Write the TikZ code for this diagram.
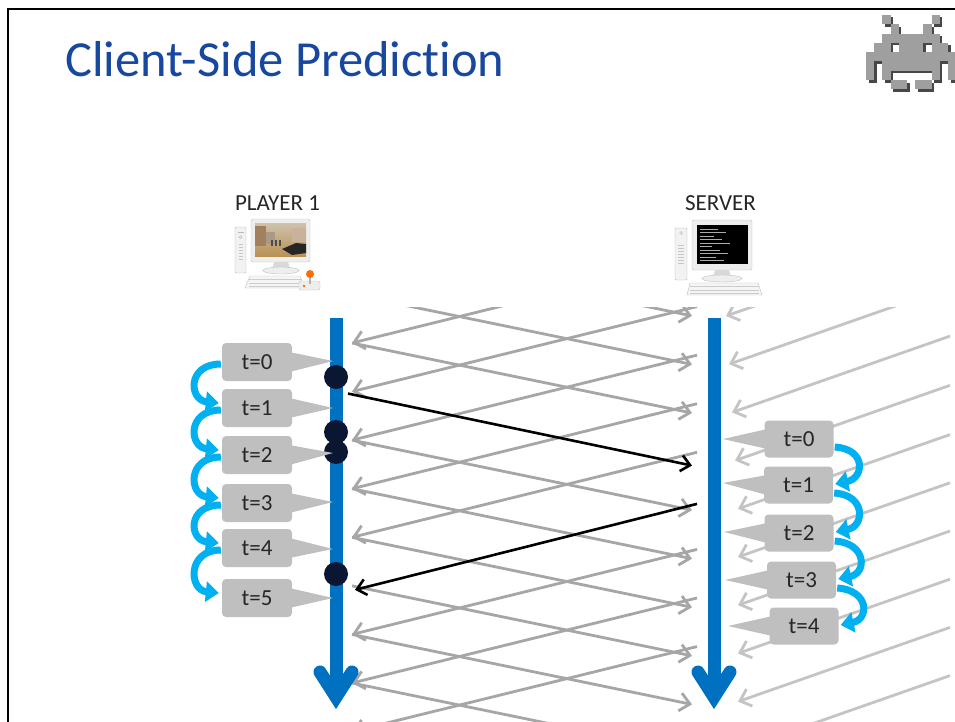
\documentclass[tikz,border=0pt]{standalone}
\usepackage{fontspec}
\setmainfont{Carlito}[Ligatures={NoCommon}]
\usetikzlibrary{arrows.meta,calc}
\definecolor{titleblue}{HTML}{17479E}
\definecolor{tlblue}{HTML}{0070C0}
\definecolor{curvblue}{HTML}{00B0F0}
\definecolor{boxgray}{HTML}{BFBFBF}
\definecolor{msggray}{HTML}{A6A6A6}
\definecolor{fargray}{HTML}{C4C4C4}
\definecolor{dotnavy}{HTML}{0B1633}
\definecolor{txtdark}{HTML}{262626}
\begin{document}
\begin{tikzpicture}[x=1pt,y=-1pt,
  tbox/.style={rectangle, rounded corners=4pt, fill=boxgray, minimum width=70pt,
    minimum height=38pt, inner sep=0pt, font=\fontsize{23}{27}\selectfont, text=txtdark},
  lbl/.style={font=\fontsize{23}{27}\selectfont, text=txtdark, anchor=base, inner sep=0pt},
  timeline/.style={draw=tlblue, line width=13pt},
  tlhead/.style={draw=tlblue, line width=13pt, line cap=round, line join=miter},
  msg/.style={draw=msggray, line width=2.8pt, -{Straight Barb[length=10pt,width=18pt]}},
  farmsg/.style={draw=fargray, line width=2.8pt, -{Straight Barb[length=10pt,width=18pt]}},
  blackmsg/.style={draw=black, line width=2.6pt, -{Straight Barb[length=9pt,width=16pt]}},
  curv/.style={draw=curvblue, line width=7pt, -{Triangle[width=20pt,length=13pt]}},
  dot/.style={circle, fill=dotnavy, minimum size=24pt, inner sep=0pt},
  pix/.style={fill=gray!75},
  pixshade/.style={fill=black!72}
]
\useasboundingbox (0,0) rectangle (955,722);

% slide frame
\draw[line width=2pt] (8,730) -- (8,9) -- (970,9);

% title
\node[anchor=base west, inner sep=0pt, text=titleblue, font=\fontsize{50.5}{60}\selectfont]
  (title) at (65,77) {Client-Side Prediction};

% pixel invader badge
\foreach \c/\r in {2/0,8/0,3/1,7/1,2/2,3/2,4/2,5/2,6/2,7/2,8/2,1/3,2/3,4/3,5/3,6/3,8/3,9/3,
  0/4,1/4,2/4,3/4,4/4,5/4,6/4,7/4,8/4,9/4,10/4,0/5,2/5,3/5,4/5,5/5,6/5,7/5,8/5,10/5,
  0/6,2/6,8/6,10/6,3/7,4/7,6/7,7/7}
  \fill[pixshade] ({866+8.2*\c+2.5},{15+9.3*\r+2.5}) rectangle ++(8.2,9.3);
\foreach \c/\r in {2/0,8/0,3/1,7/1,2/2,3/2,4/2,5/2,6/2,7/2,8/2,1/3,2/3,4/3,5/3,6/3,8/3,9/3,
  0/4,1/4,2/4,3/4,4/4,5/4,6/4,7/4,8/4,9/4,10/4,0/5,2/5,3/5,4/5,5/5,6/5,7/5,8/5,10/5,
  0/6,2/6,8/6,10/6,3/7,4/7,6/7,7/7}
  \fill[pix] ({866+8.2*\c},{15+9.3*\r}) rectangle ++(8.2,9.3);

% player workstation
\node[lbl] (p1lbl) at (277.5,210) {PLAYER 1};
\draw[fill=gray!10, draw=gray!55, rounded corners=1pt] (235,227) rectangle (246,273);
\draw[gray!55, line width=0.6pt] (237.5,232) -- (243.5,232);
\draw[gray!55, line width=0.5pt] (240.5,237) circle (1.4);
\foreach \yy in {244,247,250,253,256,259} \draw[gray!45, line width=0.5pt] (238.5,\yy) -- (242.5,\yy);
\draw[fill=gray!13, draw=gray!50, rounded corners=2pt] (251,219) rectangle (310,262);
\shade[top color={rgb,255:red,205;green,195;blue,170}, bottom color={rgb,255:red,185;green,145;blue,85}]
  (255,223) rectangle (306,256);
\fill[brown!55!gray] (255,226) rectangle (266,246);
\fill[brown!35!gray!80] (266,232) rectangle (275,244);
\fill[gray!40!brown!60] (292,228) rectangle (306,242);
\foreach \fx in {271,275,279} \fill[black!70] (\fx,240) rectangle ++(2,6);
\fill[black!85] (282,249) -- (296,243) -- (306,244) -- (306,253) -- (292,255) -- cycle;
\fill[gray!30] (274,262) -- (288,262) -- (290,269) -- (272,269) -- cycle;
\draw[fill=gray!13, draw=gray!50] (281,270.5) ellipse [x radius=18, y radius=3.5];
\draw[fill=gray!8, draw=gray!50] (250,276) -- (300,276) -- (305,288) -- (245,288) -- cycle;
\foreach \yy in {279.5,283,286} \draw[gray!40, line width=0.5pt] (249,\yy) -- (302,\yy);
\draw[fill=gray!13, draw=gray!50, rounded corners=2pt] (299,281) rectangle (320,290);
\draw[gray!60, line width=1.6pt] (310,284) -- (310,276);
\fill[orange!85!red] (310,274) circle (4);
\fill[orange!85!red] (304,286) circle (1.4);

% server workstation
\node[lbl] (srvlbl) at (720.5,210) {SERVER};
\draw[fill=gray!10, draw=gray!55, rounded corners=1pt] (675,228) rectangle (687,280);
\draw[gray!55, line width=0.5pt] (681,233) circle (1.4);
\foreach \yy in {245,248,251,254,257,260,263} \draw[gray!45, line width=0.5pt] (678,\yy) -- (684,\yy);
\draw[fill=gray!13, draw=gray!50, rounded corners=2pt] (692,220) rectangle (752,270);
\fill[black] (697,225) rectangle (748,264);
\foreach \yy/\len in {229/18,232/26,236/14,239/22,243/30,246/12,250/20,253/28,257/16,260/24}
  \draw[gray!65, line width=0.6pt] (700,\yy) -- ++(\len,0);
\fill[gray!30] (715,270) -- (729,270) -- (731,277) -- (713,277) -- cycle;
\draw[fill=gray!13, draw=gray!50] (722,278.5) ellipse [x radius=20, y radius=3.5];
\draw[fill=gray!8, draw=gray!50] (690,283) -- (758,283) -- (762,295) -- (687,295) -- cycle;
\foreach \yy in {286.5,290,293} \draw[gray!40, line width=0.5pt] (690,\yy) -- (759,\yy);

% message lattice between the two timelines
\begin{scope}
  \clip (340,307) rectangle (955,722);
  \foreach \k in {0,...,10} \coordinate (c\k) at (352,{343+48.57*(\k-2)});
  \foreach \k in {0,...,9} \coordinate (sa\k) at (692,{413+48.57*(\k-2)});
  \foreach \j in {0,...,8} \coordinate (sd\j) at (697,{258+48.57*\j});
  % client to server
  \foreach \k in {0,1,2,4,5,6,7,8,9} \draw[msg] (c\k) -- (sa\k);
  % server to client
  \foreach \j in {0,1,2,3,4,6,7,8} {
    \pgfmathtruncatemacro\jj{\j+2}
    \draw[msg] (sd\j) -- (c\jj);
  }
  % traffic arriving at the server from other players
  \foreach \k in {0,...,9} {
    \pgfmathsetmacro\rx{726+3*min(\k,4)}
    \pgfmathsetmacro\ry{316+48.2*\k}
    \coordinate (r\k) at (\rx,\ry);
    \coordinate (rf\k) at (950,{\ry-0.35*(950-\rx)});
    \draw[farmsg] (rf\k) -- (r\k);
  }
\end{scope}

% timelines
\coordinate (Ltop) at (336,318);
\coordinate (Lend) at (336,697);
\coordinate (Stop) at (714,318);
\coordinate (Send) at (714,697);
\draw[timeline] (Ltop) -- (Lend);
\draw[tlhead] ($(Lend)+(-16,-25)$) -- (Lend) -- ($(Lend)+(16,-25)$);
\draw[timeline] (Stop) -- (Send);
\draw[tlhead] ($(Send)+(-16,-25)$) -- (Send) -- ($(Send)+(16,-25)$);

% input sent to the server and the authoritative reply
\draw[blackmsg] ([xshift=-4pt,yshift=-2pt]c3) -- ([yshift=-4pt]sa3);
\draw[blackmsg] ([yshift=-3pt]sd5) -- ([xshift=3pt,yshift=-4pt]c7);

% client events on the player timeline
\node[dot] (d1) at (336,377) {};
\node[dot] (d2) at (336,432) {};
\node[dot] (d3) at (336,452) {};
\node[dot] (d4) at (336,574) {};

% client ticks
\foreach \i/\y/\ty in {0/362/361,1/408/408,2/455/453,3/503/502,4/548/549,5/598/598} {
  \node[tbox] (L\i) at (257,\y) {t=\i};
  \coordinate (pL\i) at (333,\ty);
  \fill[boxgray] ([xshift=-3pt,yshift=10pt]L\i.east) -- (pL\i) -- ([xshift=-3pt,yshift=-10pt]L\i.east) -- cycle;
}
% server ticks
\foreach \i/\x/\y/\tx/\ty in {0/799/439/723/439,1/798.5/485/723/483,2/799/533/724/532,3/801.5/580/725/580,4/804/626/728/626} {
  \node[tbox, minimum width=69pt, minimum height=37pt] (R\i) at (\x,\y) {t=\i};
  \coordinate (pR\i) at (\tx,\ty);
  \fill[boxgray] ([xshift=3pt,yshift=10pt]R\i.west) -- (pR\i) -- ([xshift=3pt,yshift=-10pt]R\i.west) -- cycle;
}

% tick-to-tick progression
\foreach \i in {0,...,4} {
  \pgfmathtruncatemacro\n{\i+1}
  \draw[curv] ([xshift=-1pt,yshift=-2pt]L\i.west) .. controls +(-34,0) and +(-30,-3) .. ([xshift=-3pt,yshift=5pt]L\n.west);
}
\foreach \i in {0,...,3} {
  \pgfmathtruncatemacro\n{\i+1}
  \draw[curv] ([xshift=1pt,yshift=-8pt]R\i.east) .. controls +(32,2) and +(29,-6) .. ([xshift=2pt,yshift=1pt]R\n.east);
}
\end{tikzpicture}
\end{document}
